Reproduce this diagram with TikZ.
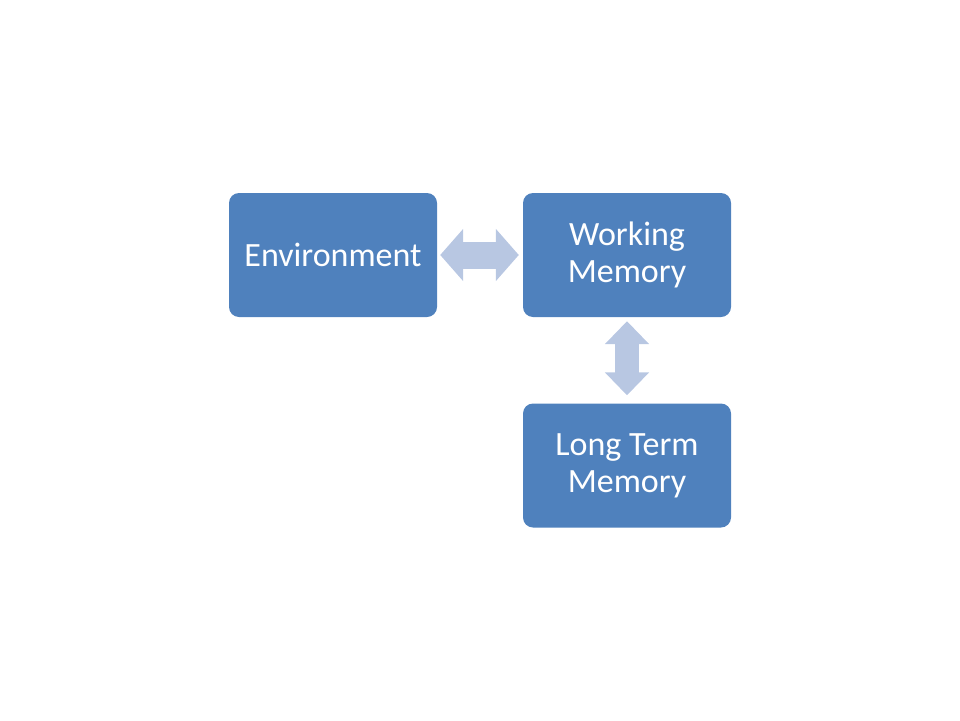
\documentclass[tikz,border=0pt]{standalone}
\usepackage{fontspec}
\setmainfont{Carlito}
\usetikzlibrary{arrows.meta}
\definecolor{boxblue}{RGB}{79,129,189}
\definecolor{arrowblue}{RGB}{184,199,226}

\begin{document}
\begin{tikzpicture}[x=1pt,y=-1pt,
    block/.style={fill=boxblue,rounded corners=10pt,minimum width=208pt,minimum height=124pt,
      text=white,align=center,font=\fontsize{34}{37}\selectfont},
    fatarrow/.style 2 args={arrowblue,line width=#1,
      {Triangle[length=23pt,width=#2]}-{Triangle[length=23pt,width=#2]}}]
      \useasboundingbox (0,0) rectangle (960,720);
      \node[block](env) at (333,255) {Environment};
      \node[block](wm) at (627,255) {Working\\Memory};
      \node[block](ltm) at (627,465.5) {Long Term\\Memory};
      \draw[fatarrow={27pt}{51pt},shorten <=3pt,shorten >=4pt](env)--(wm);
      \draw[fatarrow={24pt}{43pt},shorten <=4pt,shorten >=8pt](wm)--(ltm);
    \end{tikzpicture}
\end{document}
